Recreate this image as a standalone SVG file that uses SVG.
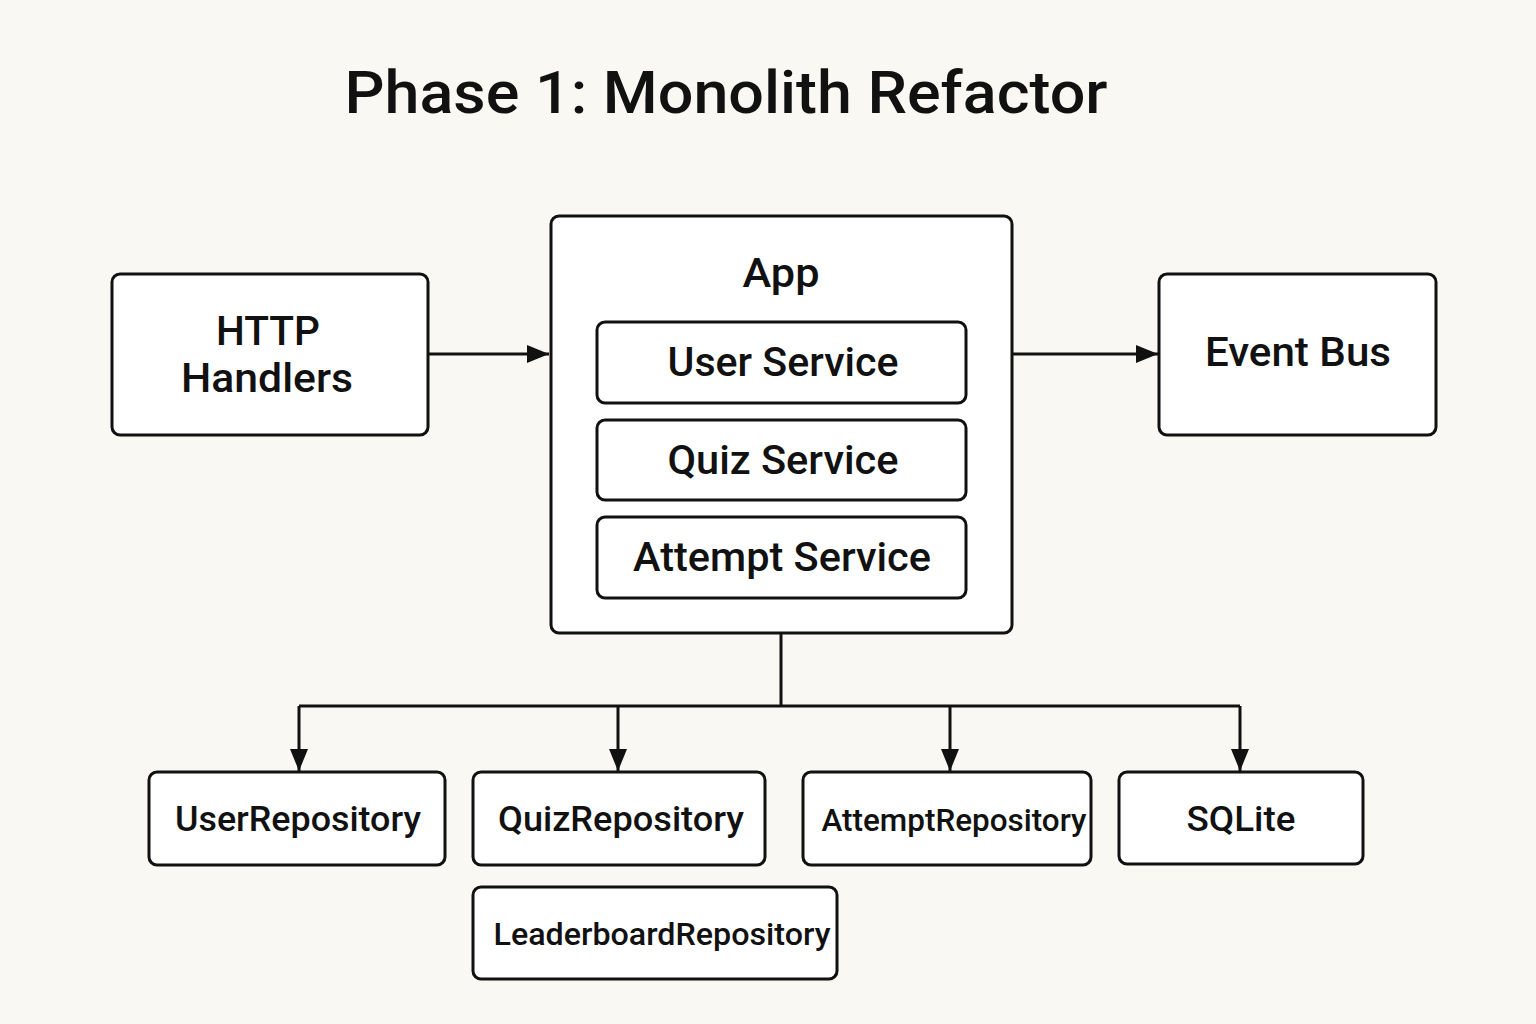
<svg xmlns="http://www.w3.org/2000/svg" width="1536" height="1024" viewBox="0 0 1536 1024">
<style>
.box{fill:#fff;stroke:#111;stroke-width:3}
.t{font-family:Roboto,"Liberation Sans",sans-serif;font-weight:500;fill:#111;text-anchor:middle}
.c{fill:none;stroke:#111;stroke-width:3}
</style>
<defs>
<marker id="ah" viewBox="0 0 22 18" refX="22" refY="9" markerWidth="22" markerHeight="18" markerUnits="userSpaceOnUse" orient="auto">
<path d="M0,0 L22,9 L0,18 Z" fill="#111"/>
</marker>
</defs>
<rect width="1536" height="1024" fill="#FAF8F2"/>
<text class="t" x="726" y="113" font-size="60" font-weight="600" textLength="763" lengthAdjust="spacingAndGlyphs">Phase 1: Monolith Refactor</text>
<g id="http">
<rect class="box" x="112" y="274" width="316" height="161" rx="8"/>
<text class="t" x="268" y="345" font-size="40" textLength="104" lengthAdjust="spacingAndGlyphs">HTTP</text>
<text class="t" x="267" y="392" font-size="40" textLength="172" lengthAdjust="spacingAndGlyphs">Handlers</text>
</g>
<g id="app">
<rect class="box" x="551" y="216" width="461" height="417" rx="8"/>
<text class="t" x="781" y="287" font-size="41" textLength="77" lengthAdjust="spacingAndGlyphs">App</text>
</g>
<g id="user-service">
<rect class="box" x="597" y="322" width="369" height="81" rx="8"/>
<text class="t" x="783" y="376" font-size="40" textLength="231" lengthAdjust="spacingAndGlyphs">User Service</text>
</g>
<g id="quiz-service">
<rect class="box" x="597" y="420" width="369" height="80" rx="8"/>
<text class="t" x="783" y="474" font-size="40" textLength="231" lengthAdjust="spacingAndGlyphs">Quiz Service</text>
</g>
<g id="attempt-service">
<rect class="box" x="597" y="517" width="369" height="81" rx="8"/>
<text class="t" x="782" y="571" font-size="40" textLength="298" lengthAdjust="spacingAndGlyphs">Attempt Service</text>
</g>
<g id="event-bus">
<rect class="box" x="1159" y="274" width="277" height="161" rx="8"/>
<text class="t" x="1298" y="366" font-size="40" textLength="186" lengthAdjust="spacingAndGlyphs">Event Bus</text>
</g>
<g id="user-repo">
<rect class="box" x="149" y="772" width="296" height="93" rx="8"/>
<text class="t" x="298" y="831" font-size="35" textLength="246" lengthAdjust="spacingAndGlyphs">UserRepository</text>
</g>
<g id="quiz-repo">
<rect class="box" x="473" y="772" width="292" height="93" rx="8"/>
<text class="t" x="621" y="831" font-size="35" textLength="246" lengthAdjust="spacingAndGlyphs">QuizRepository</text>
</g>
<g id="attempt-repo">
<rect class="box" x="803" y="772" width="288" height="93" rx="8"/>
<text class="t" x="954" y="831" font-size="32" textLength="265" lengthAdjust="spacingAndGlyphs">AttemptRepository</text>
</g>
<g id="sqlite">
<rect class="box" x="1119" y="772" width="244" height="92" rx="8"/>
<text class="t" x="1241" y="831" font-size="35" textLength="109" lengthAdjust="spacingAndGlyphs">SQLite</text>
</g>
<g id="leaderboard-repo">
<rect class="box" x="473" y="887" width="364" height="92" rx="8"/>
<text class="t" x="662" y="945" font-size="32" textLength="337" lengthAdjust="spacingAndGlyphs">LeaderboardRepository</text>
</g>
<g id="connectors">
<path class="c" d="M428,354 H549" marker-end="url(#ah)"/>
<path class="c" d="M1012,354 H1158" marker-end="url(#ah)"/>
<path class="c" d="M781,633 V706 M299,706 H1240"/>
<path class="c" d="M299,706 V771" marker-end="url(#ah)"/>
<path class="c" d="M618,706 V771" marker-end="url(#ah)"/>
<path class="c" d="M950,706 V771" marker-end="url(#ah)"/>
<path class="c" d="M1240,706 V771" marker-end="url(#ah)"/>
</g>
</svg>
